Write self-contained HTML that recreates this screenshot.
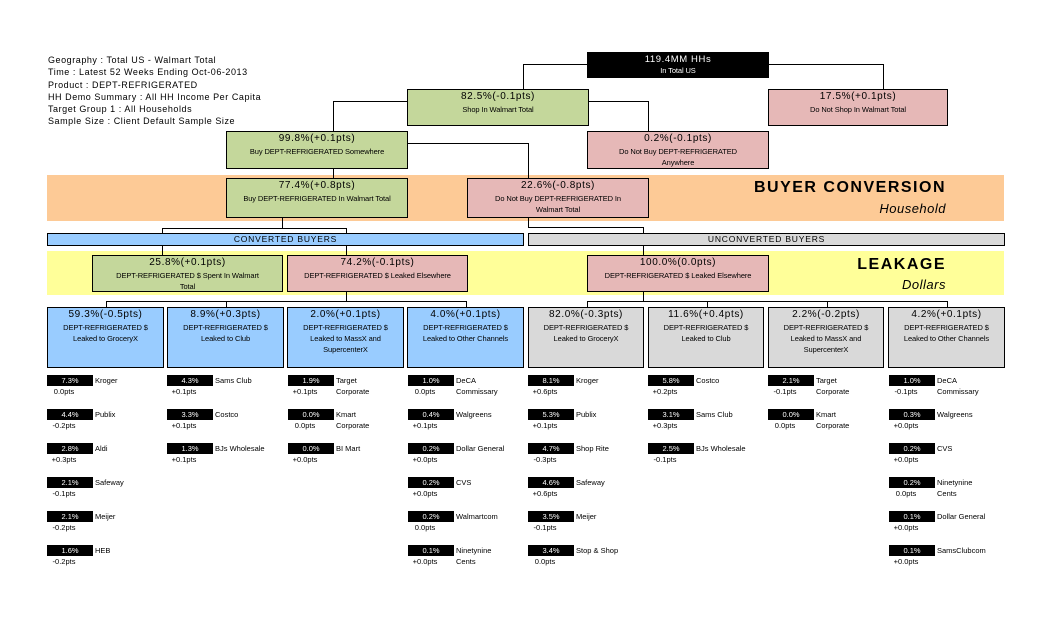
<!DOCTYPE html>
<html><head><meta charset="utf-8"><style>
*{margin:0;padding:0;box-sizing:border-box}
body{width:1051px;height:638px;background:#fff;position:relative;overflow:hidden;font-family:"Liberation Sans",Arial,sans-serif;color:#000}
.a{position:absolute}
.bx{position:absolute;border:1px solid #000;text-align:center;line-height:1.25}
.p{font-size:10px;margin-top:1px;letter-spacing:0.6px}
.s{font-size:7.5px;letter-spacing:-0.1px;line-height:11px}
.g{background:#c4d79b}.r{background:#e6b8b7}.b{background:#99ccff}.y{background:#d9d9d9}
.hd{font-size:9px;line-height:12px;left:48px;letter-spacing:0.55px}
.lb{position:absolute;width:46px;height:11px;background:#000;color:#fff;font-size:7.5px;text-align:center;line-height:11px}
.nm{position:absolute;font-size:7.5px;line-height:11px}
.pt{position:absolute;font-size:7.5px;width:46px;text-align:center}
</style></head><body>
<div class="a hd" style="top:54px">Geography : Total US - Walmart Total</div>
<div class="a hd" style="top:66px">Time : Latest 52 Weeks Ending Oct-06-2013</div>
<div class="a hd" style="top:79px">Product : DEPT-REFRIGERATED</div>
<div class="a hd" style="top:91px">HH Demo Summary : All HH Income Per Capita</div>
<div class="a hd" style="top:103px">Target Group 1 : All Households</div>
<div class="a hd" style="top:115px">Sample Size : Client Default Sample Size</div>

<div class="a" style="left:47px;top:175px;width:957px;height:46px;background:#fdca96"></div>
<div class="a" style="left:47px;top:251px;width:957px;height:44px;background:#ffff99"></div>
<div class="a" style="right:105px;top:179px;font-size:16px;font-weight:bold;letter-spacing:1.5px">BUYER CONVERSION</div>
<div class="a" style="right:105px;top:201px;font-size:13px;font-style:italic;letter-spacing:0.5px">Household</div>
<div class="a" style="right:105px;top:256px;font-size:16px;font-weight:bold;letter-spacing:1.5px">LEAKAGE</div>
<div class="a" style="right:105px;top:277px;font-size:13px;font-style:italic;letter-spacing:0.5px">Dollars</div>

<svg class="a" style="left:0;top:0" width="1051" height="638">
<g stroke="#000" stroke-width="1" fill="none">
<polyline points="587,64.5 523.5,64.5 523.5,89"/>
<polyline points="768,64.5 883.5,64.5 883.5,89"/>
<polyline points="407,101.5 333.5,101.5 333.5,131"/>
<polyline points="588,101.5 648.5,101.5 648.5,131"/>
<polyline points="407,143.5 528.5,143.5 528.5,178"/>
<line x1="333.5" y1="168" x2="333.5" y2="178"/>
<polyline points="282.5,217 282.5,228.5"/>
<polyline points="162.5,233 162.5,228.5 346.5,228.5 346.5,233"/>
<polyline points="528.5,217 528.5,227.5 643.5,227.5 643.5,233"/>
<line x1="162.5" y1="245" x2="162.5" y2="255"/>
<line x1="346.5" y1="245" x2="346.5" y2="255"/>
<line x1="643.5" y1="245" x2="643.5" y2="255"/>
<line x1="346.5" y1="291" x2="346.5" y2="301.5"/>
<polyline points="106.5,307 106.5,301.5 466.5,301.5 466.5,307"/>
<line x1="226.5" y1="301.5" x2="226.5" y2="307"/>
<line x1="643.5" y1="291" x2="643.5" y2="301.5"/>
<polyline points="587.5,307 587.5,301.5 947.5,301.5 947.5,307"/>
<line x1="707.5" y1="301.5" x2="707.5" y2="307"/>
<line x1="827.5" y1="301.5" x2="827.5" y2="307"/>
</g></svg>

<div class="bx" style="left:587px;top:52px;width:182px;height:26px;background:#000;color:#fff"><div class="p" style="font-size:9.5px">119.4MM HHs</div><div class="s" style="line-height:9px">In Total US</div></div>
<div class="bx g" style="left:407px;top:89px;width:182px;height:37px"><div class="p">82.5%(-0.1pts)</div><div class="s">Shop In Walmart Total</div></div>
<div class="bx r" style="left:768px;top:89px;width:180px;height:37px"><div class="p">17.5%(+0.1pts)</div><div class="s">Do Not Shop In Walmart Total</div></div>
<div class="bx g" style="left:226px;top:131px;width:182px;height:38px"><div class="p">99.8%(+0.1pts)</div><div class="s">Buy DEPT-REFRIGERATED Somewhere</div></div>
<div class="bx r" style="left:587px;top:131px;width:182px;height:38px"><div class="p">0.2%(-0.1pts)</div><div class="s">Do Not Buy DEPT-REFRIGERATED<br>Anywhere</div></div>
<div class="bx g" style="left:226px;top:178px;width:182px;height:40px"><div class="p">77.4%(+0.8pts)</div><div class="s">Buy DEPT-REFRIGERATED In Walmart Total</div></div>
<div class="bx r" style="left:467px;top:178px;width:182px;height:40px"><div class="p">22.6%(-0.8pts)</div><div class="s">Do Not Buy DEPT-REFRIGERATED In<br>Walmart Total</div></div>

<div class="bx b" style="left:47px;top:233px;width:477px;height:13px;font-size:8.5px;line-height:11px;letter-spacing:0.8px">CONVERTED BUYERS</div>
<div class="bx y" style="left:528px;top:233px;width:477px;height:13px;font-size:8.5px;line-height:11px;letter-spacing:0.8px">UNCONVERTED BUYERS</div>

<div class="bx g" style="left:92px;top:255px;width:191px;height:37px"><div class="p">25.8%(+0.1pts)</div><div class="s">DEPT-REFRIGERATED $ Spent In Walmart<br>Total</div></div>
<div class="bx r" style="left:287px;top:255px;width:181px;height:37px"><div class="p">74.2%(-0.1pts)</div><div class="s">DEPT-REFRIGERATED $ Leaked Elsewhere</div></div>
<div class="bx r" style="left:587px;top:255px;width:182px;height:37px"><div class="p">100.0%(0.0pts)</div><div class="s">DEPT-REFRIGERATED $ Leaked Elsewhere</div></div>

<div class="bx b" style="left:47px;top:307px;width:117px;height:61px"><div class="p">59.3%(-0.5pts)</div><div class="s">DEPT-REFRIGERATED $<br>Leaked to GroceryX</div></div>
<div class="bx b" style="left:167px;top:307px;width:117px;height:61px"><div class="p">8.9%(+0.3pts)</div><div class="s">DEPT-REFRIGERATED $<br>Leaked to Club</div></div>
<div class="bx b" style="left:287px;top:307px;width:117px;height:61px"><div class="p">2.0%(+0.1pts)</div><div class="s">DEPT-REFRIGERATED $<br>Leaked to MassX and<br>SupercenterX</div></div>
<div class="bx b" style="left:407px;top:307px;width:117px;height:61px"><div class="p">4.0%(+0.1pts)</div><div class="s">DEPT-REFRIGERATED $<br>Leaked to Other Channels</div></div>
<div class="bx y" style="left:528px;top:307px;width:116px;height:61px"><div class="p">82.0%(-0.3pts)</div><div class="s">DEPT-REFRIGERATED $<br>Leaked to GroceryX</div></div>
<div class="bx y" style="left:648px;top:307px;width:116px;height:61px"><div class="p">11.6%(+0.4pts)</div><div class="s">DEPT-REFRIGERATED $<br>Leaked to Club</div></div>
<div class="bx y" style="left:768px;top:307px;width:116px;height:61px"><div class="p">2.2%(-0.2pts)</div><div class="s">DEPT-REFRIGERATED $<br>Leaked to MassX and<br>SupercenterX</div></div>
<div class="bx y" style="left:888px;top:307px;width:117px;height:61px"><div class="p">4.2%(+0.1pts)</div><div class="s">DEPT-REFRIGERATED $<br>Leaked to Other Channels</div></div>

<div id="leaves"></div>
<script>
var cols=[
[47,[["7.3%","Kroger","0.0pts"],["4.4%","Publix","-0.2pts"],["2.8%","Aldi","+0.3pts"],["2.1%","Safeway","-0.1pts"],["2.1%","Meijer","-0.2pts"],["1.6%","HEB","-0.2pts"]]],
[167,[["4.3%","Sams Club","+0.1pts"],["3.3%","Costco","+0.1pts"],["1.3%","BJs Wholesale","+0.1pts"]]],
[288,[["1.9%","Target<br>Corporate","+0.1pts"],["0.0%","Kmart<br>Corporate","0.0pts"],["0.0%","BI Mart","+0.0pts"]]],
[408,[["1.0%","DeCA<br>Commissary","0.0pts"],["0.4%","Walgreens","+0.1pts"],["0.2%","Dollar General","+0.0pts"],["0.2%","CVS","+0.0pts"],["0.2%","Walmartcom","0.0pts"],["0.1%","Ninetynine<br>Cents","+0.0pts"]]],
[528,[["8.1%","Kroger","+0.6pts"],["5.3%","Publix","+0.1pts"],["4.7%","Shop Rite","-0.3pts"],["4.6%","Safeway","+0.6pts"],["3.5%","Meijer","-0.1pts"],["3.4%","Stop & Shop","0.0pts"]]],
[648,[["5.8%","Costco","+0.2pts"],["3.1%","Sams Club","+0.3pts"],["2.5%","BJs Wholesale","-0.1pts"]]],
[768,[["2.1%","Target<br>Corporate","-0.1pts"],["0.0%","Kmart<br>Corporate","0.0pts"]]],
[889,[["1.0%","DeCA<br>Commissary","-0.1pts"],["0.3%","Walgreens","+0.0pts"],["0.2%","CVS","+0.0pts"],["0.2%","Ninetynine<br>Cents","0.0pts"],["0.1%","Dollar General","+0.0pts"],["0.1%","SamsClubcom","+0.0pts"]]]
];
var h="";
cols.forEach(function(c){var x=c[0];c[1].forEach(function(it,i){var y=375+i*34;
h+='<div class="lb" style="left:'+x+'px;top:'+y+'px">'+it[0]+'</div>';
h+='<div class="nm" style="left:'+(x+48)+'px;top:'+y+'px">'+it[1]+'</div>';
h+='<div class="pt" style="left:'+(x-6)+'px;top:'+(y+12)+'px">'+it[2]+'</div>';});});
document.getElementById("leaves").innerHTML=h;
</script>
</body></html>
